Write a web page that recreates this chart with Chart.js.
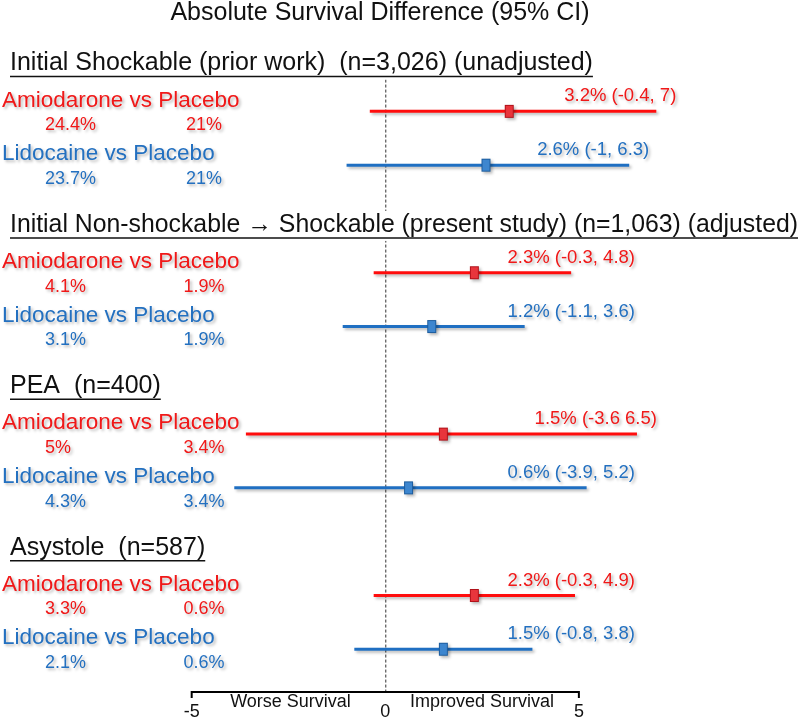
<!DOCTYPE html>
<html>
<head>
<meta charset="utf-8">
<script src="https://cdn.jsdelivr.net/npm/chart.js@4.4.1/dist/chart.umd.min.js"></script>
<style>
  html, body { margin: 0; padding: 0; background: #ffffff; }
  #wrap { width: 800px; height: 720px; }
</style>
</head>
<body>
<div id="wrap"><canvas id="c" width="800" height="720"></canvas></div>
<script>
// ---- data ----
const chartTitle = 'Absolute Survival Difference (95% CI)';
const groups = [
  'Initial Shockable (prior work)  (n=3,026) (unadjusted)',
  'Initial Non-shockable \u2192 Shockable (present study) (n=1,063) (adjusted)',
  'PEA  (n=400)',
  'Asystole  (n=587)'
];
const comparisons = ['Amiodarone vs Placebo', 'Lidocaine vs Placebo'];
const estimates = [[3.2, 2.6], [2.3, 1.2], [1.5, 0.6], [2.3, 1.5]];
const lowerCI   = [[-0.4, -1], [-0.3, -1.1], [-3.6, -3.9], [-0.3, -0.8]];
const upperCI   = [[7, 6.3], [4.8, 3.6], [6.5, 5.2], [4.9, 3.8]];
const drugSurvival    = [['24.4%', '23.7%'], ['4.1%', '3.1%'], ['5%', '4.3%'], ['3.3%', '2.1%']];
const placeboSurvival = ['21%', '1.9%', '3.4%', '0.6%'];
const ciLabels = [
  ['3.2% (-0.4, 7)', '2.6% (-1, 6.3)'],
  ['2.3% (-0.3, 4.8)', '1.2% (-1.1, 3.6)'],
  ['1.5% (-3.6 6.5)', '0.6% (-3.9, 5.2)'],
  ['2.3% (-0.3, 4.9)', '1.5% (-0.8, 3.8)']
];
const xTicks = [-5, 0, 5];
const axisLabels = ['Worse Survival', 'Improved Survival'];

// ---- styling ----
const FONT = '"Liberation Sans", Arial, Helvetica, sans-serif';
const lineColors  = ['#ff0d0d', '#1f6fc2'];
const textColors  = ['#f01818', '#2370c0'];
const markerFill  = ['#e8353c', '#3d86cf'];
const markerEdge  = ['#b0121a', '#1d5d9e'];

function makeMarker(fill, edge) {
  const cv = document.createElement('canvas');
  cv.width = 11; cv.height = 15;
  const g = cv.getContext('2d');
  g.fillStyle = fill;
  g.fillRect(1, 1, 9, 13);
  g.strokeStyle = edge;
  g.lineWidth = 1;
  g.strokeRect(1.5, 1.5, 8, 12);
  return cv;
}

// row slots: header at g*3, comparisons at g*3+1, g*3+2
const headerSlot = g => g * 3;
const rowSlot = (g, c) => g * 3 + 1 + c;

const datasets = [];
groups.forEach((grp, g) => {
  comparisons.forEach((cmp, c) => {
    datasets.push({
      type: 'line',
      label: cmp + ' CI ' + g,
      data: [{ x: lowerCI[g][c], y: rowSlot(g, c) }, { x: upperCI[g][c], y: rowSlot(g, c) }],
      borderColor: lineColors[c],
      borderWidth: 3,
      pointRadius: 0,
      showLine: true,
      fill: false,
      order: 2
    });
  });
});
comparisons.forEach((cmp, c) => {
  datasets.push({
    type: 'scatter',
    label: cmp,
    data: groups.map((grp, g) => ({ x: estimates[g][c], y: rowSlot(g, c) })),
    pointStyle: makeMarker(markerFill[c], markerEdge[c]),
    pointRadius: 6,
    order: 1
  });
});

function withShadow(ctx, fn) {
  ctx.save();
  ctx.shadowColor = 'rgba(0,0,0,0.28)';
  ctx.shadowBlur = 3;
  ctx.shadowOffsetX = 2;
  ctx.shadowOffsetY = 2;
  fn();
  ctx.restore();
}

const forestPlugin = {
  id: 'forest',
  beforeDatasetsDraw(chart) {
    const ctx = chart.ctx;
    const xs = chart.scales.x, ys = chart.scales.y;
    const area = chart.chartArea;
    const x0 = xs.getPixelForValue(0);
    // dashed zero line
    ctx.save();
    ctx.strokeStyle = '#333';
    ctx.lineWidth = 1;
    ctx.setLineDash([3, 2]);
    ctx.beginPath();
    ctx.moveTo(x0 + 0.5, ys.getPixelForValue(headerSlot(0)) + 22);
    ctx.lineTo(x0 + 0.5, area.bottom);
    ctx.stroke();
    ctx.restore();
    // bottom axis line with end caps
    const xa = xs.getPixelForValue(xTicks[0]);
    const xb = xs.getPixelForValue(xTicks[xTicks.length - 1]);
    const yb = area.bottom;
    ctx.save();
    ctx.strokeStyle = '#000';
    ctx.lineWidth = 2;
    ctx.beginPath();
    ctx.moveTo(xa, yb + 6);
    ctx.lineTo(xa, yb);
    ctx.lineTo(xb, yb);
    ctx.lineTo(xb, yb + 6);
    ctx.stroke();
    ctx.font = '18px ' + FONT;
    ctx.fillStyle = '#111';
    ctx.textAlign = 'center';
    ctx.textBaseline = 'middle';
    ctx.fillText(axisLabels[0], (xa + x0) / 2 + 2, yb + 10);
    ctx.fillText(axisLabels[1], (xb + x0) / 2, yb + 10);
    ctx.restore();

    // title
    ctx.save();
    ctx.font = '25px ' + FONT;
    ctx.fillStyle = '#111';
    ctx.textAlign = 'center';
    ctx.textBaseline = 'middle';
    ctx.fillText(chartTitle, 380, 13);
    ctx.restore();

    // group headers (underlined), with white backing so the dashed line breaks
    ctx.save();
    ctx.font = '25px ' + FONT;
    ctx.textAlign = 'left';
    ctx.textBaseline = 'middle';
    const maxW = 788;
    groups.forEach((grp, g) => {
      const y = ys.getPixelForValue(headerSlot(g)) + 6;
      const w = Math.min(maxW, ctx.measureText(grp).width);
      ctx.fillStyle = '#fff';
      ctx.fillRect(8, y - 14, w + 4, 30);
      ctx.fillStyle = '#111';
      ctx.fillText(grp, 10, y, maxW);
      ctx.strokeStyle = '#111';
      ctx.lineWidth = 1.5;
      ctx.beginPath();
      ctx.moveTo(10, y + 13);
      ctx.lineTo(10 + w, y + 13);
      ctx.stroke();
    });
    ctx.restore();

    // shadow for CI lines / markers
    ctx.save();
    ctx.shadowColor = 'rgba(0,0,0,0.28)';
    ctx.shadowBlur = 3;
    ctx.shadowOffsetX = 2;
    ctx.shadowOffsetY = 2;
  },
  afterDatasetsDraw(chart) {
    const ctx = chart.ctx;
    ctx.restore();
    const xs = chart.scales.x, ys = chart.scales.y;
    groups.forEach((grp, g) => {
      comparisons.forEach((cmp, c) => {
        const y = ys.getPixelForValue(rowSlot(g, c));
        withShadow(ctx, () => {
          ctx.fillStyle = textColors[c];
          ctx.textBaseline = 'middle';
          ctx.font = '22.5px ' + FONT;
          ctx.textAlign = 'left';
          ctx.fillText(cmp, 2, y - 11);
          ctx.font = '18px ' + FONT;
          ctx.fillText(drugSurvival[g][c], 45, y + 14);
          ctx.textAlign = 'center';
          ctx.fillText(placeboSurvival[g], 204, y + 14);
          ctx.font = '18.5px ' + FONT;
          ctx.textAlign = 'right';
          const xr = Math.min(680, Math.max(635, xs.getPixelForValue(upperCI[g][c]) + 20));
          ctx.fillText(ciLabels[g][c], xr, y - 15);
        });
      });
    });
  }
};

new Chart(document.getElementById('c'), {
  type: 'scatter',
  data: { datasets },
  options: {
    responsive: false,
    animation: false,
    devicePixelRatio: 1,
    layout: { padding: 0 },
    plugins: { legend: { display: false }, tooltip: { enabled: false }, title: { display: false } },
    scales: {
      x: {
        type: 'linear',
        min: -9.77,
        max: 10.53,
        afterBuildTicks: (scale) => { scale.ticks = xTicks.map(v => ({ value: v })); },
        afterFit: (scale) => { scale.height = 28; },
        ticks: { font: { size: 18, family: FONT }, color: '#111', padding: 1, maxRotation: 0 },
        grid: { display: false },
        border: { display: false }
      },
      y: {
        type: 'linear',
        reverse: true,
        min: -0.94,
        max: 11.795,
        display: false
      }
    }
  },
  plugins: [forestPlugin]
});
</script>
</body>
</html>
